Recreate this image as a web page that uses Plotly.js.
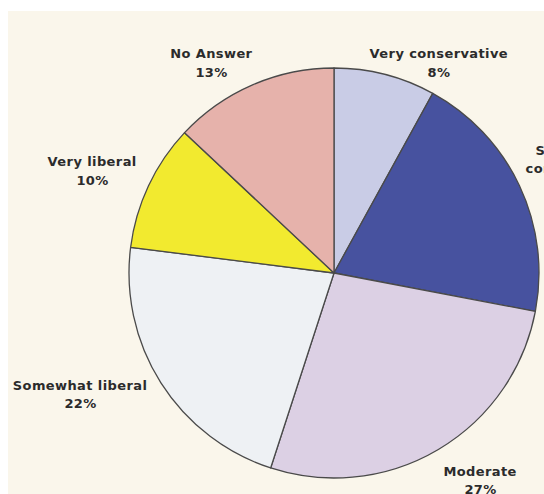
<!DOCTYPE html>
<html>
<head>
<meta charset="utf-8">
<script src="https://cdn.plot.ly/plotly-3.0.1.min.js"></script>
<style>
  html, body { margin: 0; padding: 0; background: #ffffff; width: 544px; height: 494px; overflow: hidden; }
  #chart { position: absolute; left: 8px; top: 11px; width: 536px; height: 483px; }
  #chart .annotation-text { letter-spacing: 0.4px; }
</style>
</head>
<body>
<div id="chart"></div>
<script>
// Data
const categories = ["Very conservative", "Somewhat conservative", "Moderate", "Somewhat liberal", "Very liberal", "No Answer"];
const percents = [8, 20, 27, 22, 10, 13];
const nameLines = [["Very conservative"], ["Somewhat", "conservative"], ["Moderate"], ["Somewhat liberal"], ["Very liberal"], ["No Answer"]];

// Styling
const colors = ["#c9cce6", "#47529f", "#dcd0e4", "#eef1f4", "#f2ea2f", "#e6b2ab"];
const W = 536, H = 483, OX = 8, OY = 11;
// label anchor positions (page px): [x, yFirstLine]
const labelPos = [[439, 54], [575, 150], [480, 471], [80, 385], [92, 162], [211, 54]];
const lineGap = 18.5;

const px = (X) => (X - OX) / W;
const py = (Y) => 1 - (Y - OY) / H;

const annotations = [];
categories.forEach((c, i) => {
  const lines = nameLines[i].concat([percents[i] + "%"]);
  lines.forEach((t, k) => {
    annotations.push({
      xref: "paper", yref: "paper",
      x: px(labelPos[i][0]), y: py(labelPos[i][1] + k * lineGap),
      xanchor: "center", yanchor: "middle",
      text: t, showarrow: false,
      font: { family: "DejaVu Sans", size: 13, color: "#2b2b2b", weight: "bold" }
    });
  });
});

const cx = 326, cy = 262, r = 205; // in div px
const trace = {
  type: "pie",
  labels: categories,
  values: percents,
  sort: false,
  direction: "clockwise",
  rotation: 0,
  textinfo: "none",
  hoverinfo: "label+percent",
  marker: { colors: colors, line: { color: "#4a4a4a", width: 1.3 } },
  domain: { x: [(cx - r) / W, (cx + r) / W], y: [1 - (cy + r) / H, 1 - (cy - r) / H] },
  showlegend: false
};

const layout = {
  width: W, height: H,
  margin: { l: 0, r: 0, t: 0, b: 0 },
  paper_bgcolor: "#faf6eb",
  plot_bgcolor: "#faf6eb",
  showlegend: false,
  annotations: annotations
};

Plotly.newPlot("chart", [trace], layout, { staticPlot: true, displayModeBar: false });
</script>
</body>
</html>
